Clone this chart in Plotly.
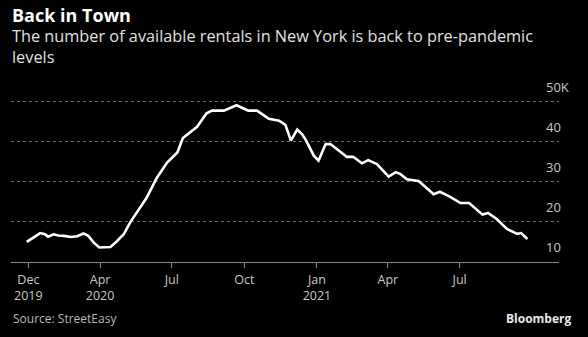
import plotly.graph_objects as go

# Weekly available rentals in New York (thousands)
dates = ["2019-12-30", "2020-01-16", "2020-01-22", "2020-01-26", "2020-02-02", "2020-02-08",
         "2020-02-15", "2020-02-24", "2020-03-03", "2020-03-11", "2020-03-17", "2020-03-24",
         "2020-03-31", "2020-04-14", "2020-04-21", "2020-05-01", "2020-05-09", "2020-05-21",
         "2020-05-30", "2020-06-12", "2020-06-25", "2020-07-08", "2020-07-15", "2020-08-02",
         "2020-08-14", "2020-08-21", "2020-09-05", "2020-09-21", "2020-10-06", "2020-10-17",
         "2020-11-01", "2020-11-14", "2020-11-22", "2020-11-29", "2020-12-07", "2020-12-13",
         "2020-12-18", "2020-12-28", "2021-01-03", "2021-01-12", "2021-01-18", "2021-01-29",
         "2021-02-08", "2021-02-16", "2021-02-27", "2021-03-07", "2021-03-18", "2021-04-02",
         "2021-04-11", "2021-04-17", "2021-04-25", "2021-05-10", "2021-05-29", "2021-06-06",
         "2021-06-19", "2021-07-02", "2021-07-13", "2021-07-30", "2021-08-06", "2021-08-17",
         "2021-08-30", "2021-09-12", "2021-09-17", "2021-09-25"]
rentals_k = [15.0, 17.2, 16.9, 16.3, 16.9, 16.6, 16.5, 16.2, 16.4, 17.1,
             16.5, 14.8, 13.6, 13.7, 14.9, 16.9, 19.8, 23.4, 26.0, 31.0,
             34.8, 37.3, 40.9, 43.7, 47.1, 47.75, 47.75, 49.1, 47.75, 47.75,
             45.7, 45.25, 44.2, 40.25, 43.0, 41.9, 40.4, 36.5, 35.25, 39.4,
             39.4, 37.75, 36.2, 36.25, 34.6, 35.4, 34.4, 31.3, 32.4, 31.9,
             30.6, 30.2, 26.9, 27.5, 26.25, 24.7, 24.7, 21.8, 22.2, 20.7,
             18.2, 17.0, 17.2, 15.7]

x_tickvals = ["2020-01-01", "2020-04-01", "2020-07-01", "2020-10-01",
              "2021-01-01", "2021-04-01", "2021-07-01"]
x_ticktext = ["Dec<br>2019", "Apr<br>2020", "Jul", "Oct", "Jan<br>2021", "Apr", "Jul"]
y_tickvals = [10, 20, 30, 40, 50]
y_ticktext = ["10", "20", "30", "40", "50K"]

FONT = "Open Sans"
Y_LO, Y_HI = 9.975, 50.4
PX_PER_K = 4.0
Y50_PIX = 101.5                                  # pixel row of the 50K gridline
PLOT_TOP = Y50_PIX - (Y_HI - 50) * PX_PER_K
PLOT_H = (Y_HI - Y_LO) * PX_PER_K

fig = go.Figure()
fig.add_trace(go.Scatter(
    x=dates, y=rentals_k, mode="lines",
    line=dict(color="white", width=2.6),
    hoverinfo="skip", showlegend=False,
))


def py(pix):
    """paper y for a pixel row"""
    return (PLOT_TOP + PLOT_H - pix) / PLOT_H


fig.update_layout(
    width=588, height=337,
    paper_bgcolor="black", plot_bgcolor="black",
    margin=dict(l=11, r=29, t=PLOT_TOP, b=337 - PLOT_TOP - PLOT_H),
    font=dict(family=FONT, color="#c8c8c8", size=12),
    xaxis=dict(
        type="date",
        range=["2019-12-10", "2021-11-04"],
        tickvals=x_tickvals, ticktext=x_ticktext,
        showgrid=False, zeroline=False,
        showline=True, linecolor="#8a8a8a", linewidth=1,
        ticks="outside", ticklen=5, tickcolor="#8a8a8a", tickwidth=1,
        ticklabelstandoff=1,
        tickfont=dict(size=12.5, color="#c8c8c8"),
        fixedrange=True,
    ),
    yaxis=dict(
        range=[Y_LO, Y_HI],
        side="right",
        tickvals=y_tickvals, ticktext=y_ticktext,
        showgrid=True, gridcolor="#6a6a6a", griddash="dot", gridwidth=1,
        zeroline=False, showline=False, ticks="",
        ticklabelposition="outside top",
        ticklabelstandoff=-14,
        ticklabelshift=-5,
        tickfont=dict(size=13, color="#c8c8c8"),
        fixedrange=True,
    ),
    annotations=[
        dict(text="<b>Back in Town</b>", xref="paper", yref="paper",
             x=-0.001, y=py(15.5), xanchor="left", yanchor="middle",
             showarrow=False, font=dict(family=FONT, size=18, color="white")),
        dict(text="The number of available rentals in New York is back to pre-pandemic<br>levels",
             xref="paper", yref="paper", align="left",
             x=-0.001, y=py(46.5), xanchor="left", yanchor="middle",
             showarrow=False, font=dict(family=FONT, size=16.3, color="#e0e0e0")),
        dict(text="Source: StreetEasy", xref="paper", yref="paper",
             x=0.0, y=py(318), xanchor="left", yanchor="middle",
             showarrow=False, font=dict(family=FONT, size=12, color="#b8b8b8")),
        dict(text="<b>Bloomberg</b>", xref="paper", yref="paper",
             x=(574 - 11) / 548, y=py(318), xanchor="right", yanchor="middle",
             showarrow=False, font=dict(family=FONT, size=12, color="#e8e8e8")),
    ],
)

fig.write_html("out.html")
